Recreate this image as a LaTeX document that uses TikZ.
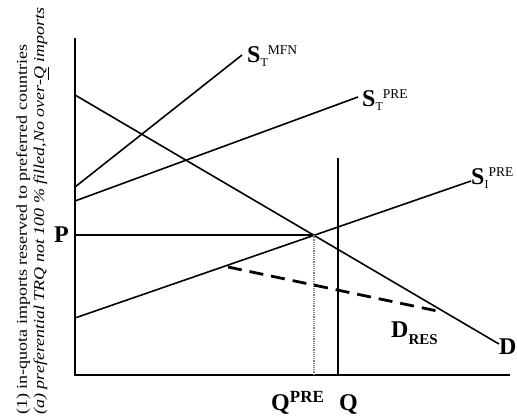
\documentclass[tikz,border=0pt]{standalone}
\usepackage{fontspec}
\setmainfont{Liberation Serif}
\usetikzlibrary{calc}

\tikzset{
  curve/.style={line width=1.6pt},
  lbl/.style={font=\fontsize{24}{26}\selectfont\bfseries, inner sep=0pt},
  note/.style={rotate=90, anchor=base west, inner sep=0pt, font=\fontsize{15}{16}\selectfont},
}
\newcommand{\sname}[2]{S\raisebox{-4pt}{\fontsize{12}{13}\selectfont\mdseries #1}\raisebox{8pt}{\fontsize{13.5}{14}\selectfont\mdseries #2}}

\begin{document}
\begin{tikzpicture}[x=1pt,y=-1pt]
  \useasboundingbox (0,0) rectangle (517,419);

  % axes
  \coordinate (O) at (75,375);
  \draw[curve] (75,38) -- (O) -- (510,375);

  % supply and demand curves
  \coordinate (smfnA) at (75,187);  \coordinate (smfnB) at (242,55);
  \coordinate (stA) at (75,201);    \coordinate (stB) at (358,97);
  \coordinate (siA) at (75,318);    \coordinate (siB) at (471,181);
  \coordinate (dA) at (75,95);      \coordinate (dB) at (499,344);
  \draw[curve] (smfnA) -- (smfnB);
  \draw[curve] (stA) -- (stB);
  \draw[curve] (siA) -- (siB);
  \draw[curve] (dA) -- (dB);

  % price line, quantities
  \coordinate (E) at (314,235);
  \draw[curve] (75,235) -- (E);
  \draw[gray, densely dotted, line width=1.2pt] (E) -- (314,375);
  \draw[curve] (338,158) -- (338,375);

  % residual demand
  \coordinate (resA) at (228,267);  \coordinate (resB) at (442,312);
  \draw[line width=2.8pt, dash pattern=on 14pt off 8pt] (resA) -- (resB);

  % labels
  \node[lbl, anchor=base west] (lmfn) at (247,63) {\sname{T}{MFN}};
  \node[lbl, anchor=base west] (lst) at (362,107) {\sname{T}{PRE}};
  \node[lbl, anchor=base west] (lsi) at (471,185) {\sname{I}{PRE}};
  \node[lbl, anchor=base west] (ld) at (499,355) {D};
  \node[lbl, anchor=base west] (ldres) at (391,338) {D\raisebox{-7pt}{\fontsize{15}{16}\selectfont RES}};
  \node[lbl, anchor=base east] (lp) at (69,243) {P};
  \node[lbl, anchor=base west] (lqpre) at (271,411) {Q\raisebox{8pt}{\fontsize{17}{18}\selectfont PRE}};
  \node[lbl, anchor=base west] (lq) at (339,411) {Q};

  % side notes
  \node[note] (note1) at (27,415) {\scalebox{1.2}[1]{(1) in-quota imports reserved to preferred countries}};
  \node[note, font=\fontsize{15}{16}\selectfont\itshape] (note2) at (44,415) {\scalebox{1.2}[1]{(a) preferential TRQ not 100 \% filled,No over-\underline{Q} imports}};
\end{tikzpicture}
\end{document}
